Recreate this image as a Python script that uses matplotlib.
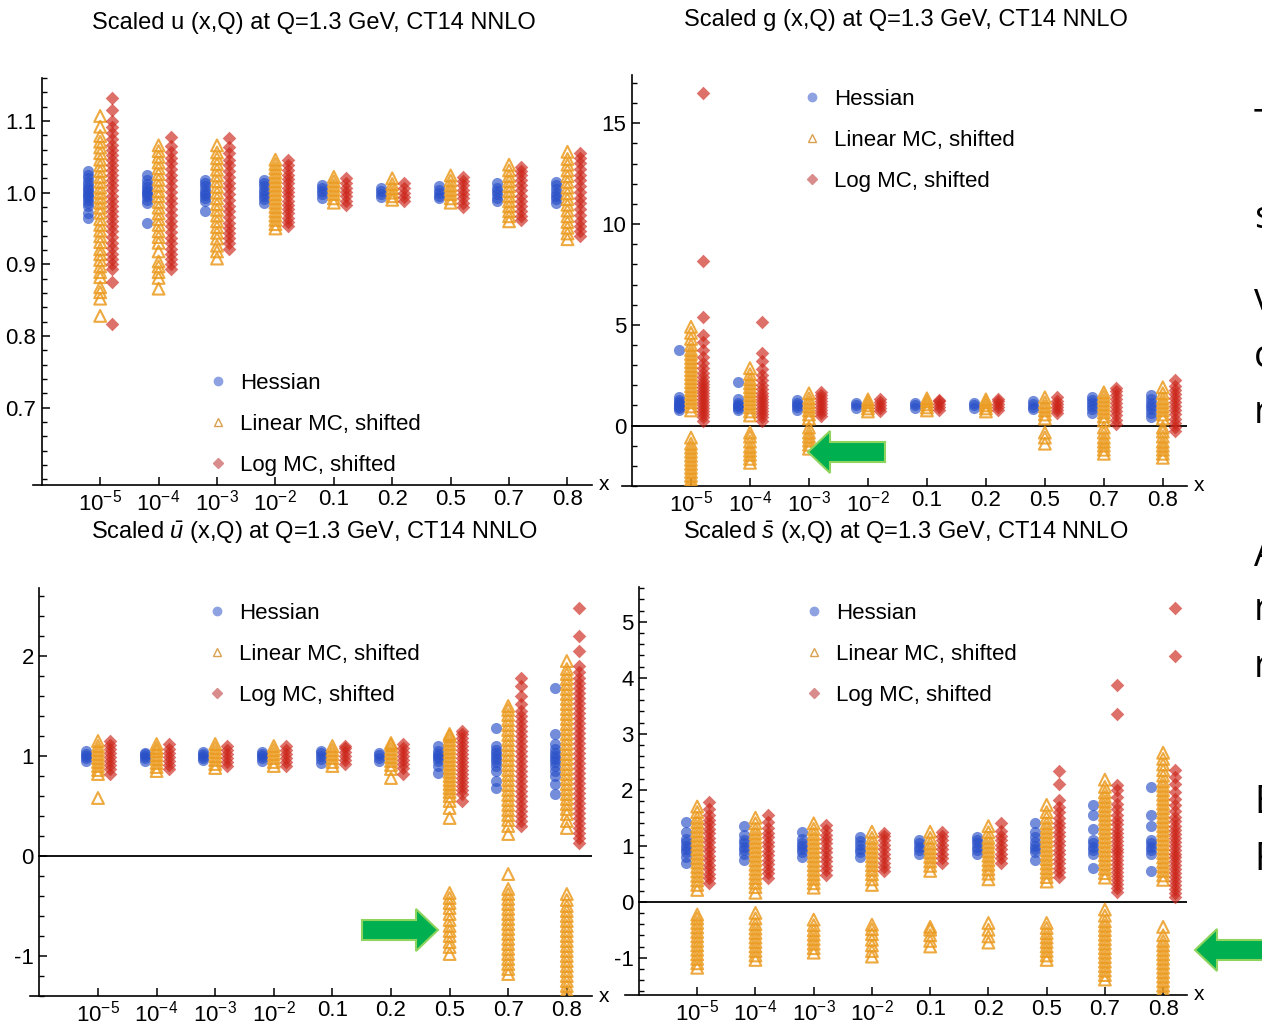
import matplotlib
matplotlib.use('Agg')
import matplotlib.pyplot as plt
import matplotlib.patches as mpatches
from matplotlib.lines import Line2D
import numpy as np

# Tipografia tipo Helvetica
plt.rcParams['font.family'] = ['Liberation Sans', 'DejaVu Sans']
plt.rcParams['mathtext.fontset'] = 'custom'
plt.rcParams['mathtext.rm'] = 'Liberation Sans'
plt.rcParams['mathtext.it'] = 'Liberation Sans:italic'

# Categorias de x
x_labels = ['$10^{-5}$', '$10^{-4}$', '$10^{-3}$', '$10^{-2}$', '0.1', '0.2', '0.5', '0.7', '0.8']
series_names = ['Hessian', 'Linear MC, shifted', 'Log MC, shifted']

# ---- Scaled u ----
u_hess = [
    [0.965, 0.972, 0.981, 0.986, 0.99, 0.994, 0.997, 1.0, 1.003, 1.006, 1.01, 1.015, 1.02, 1.025, 1.03],
    [0.957, 0.985, 0.99, 0.995, 0.998, 1.001, 1.004, 1.008, 1.012, 1.018, 1.024],
    [0.975, 0.988, 0.993, 0.997, 1.0, 1.004, 1.009, 1.013, 1.018],
    [0.986, 0.991, 0.996, 1.0, 1.004, 1.009, 1.014, 1.018],
    [0.993, 0.998, 1.002, 1.006, 1.011],
    [0.994, 0.998, 1.002, 1.007],
    [0.992, 0.996, 1.0, 1.004, 1.009],
    [0.988, 0.993, 0.998, 1.002, 1.007, 1.014],
    [0.986, 0.991, 0.996, 1.0, 1.005, 1.01, 1.015],
]
u_lin = [
    [0.828, 0.852, 0.861, 0.868, 0.882, 0.889, 0.897, 0.906, 0.914, 0.921, 0.931, 0.939, 0.947, 0.955, 0.963,
     0.972, 0.979, 0.986, 0.993, 1.0, 1.007, 1.015, 1.022, 1.03, 1.038, 1.046, 1.055, 1.063, 1.071, 1.079, 1.092, 1.107],
    [0.866, 0.881, 0.889, 0.897, 0.904, 0.918, 0.93, 0.938, 0.946, 0.955, 0.963, 0.971, 0.979, 0.987, 0.995,
     1.002, 1.01, 1.018, 1.026, 1.034, 1.042, 1.05, 1.058, 1.066],
    [0.908, 0.918, 0.926, 0.936, 0.944, 0.952, 0.96, 0.968, 0.976, 0.984, 0.992, 1.0, 1.008, 1.016, 1.024,
     1.032, 1.04, 1.048, 1.056, 1.066],
    [0.95, 0.956, 0.962, 0.968, 0.974, 0.98, 0.986, 0.992, 0.998, 1.004, 1.01, 1.016, 1.022, 1.028, 1.034, 1.04, 1.046],
    [0.986, 0.992, 0.998, 1.004, 1.01, 1.016, 1.022],
    [0.99, 0.995, 1.0, 1.006, 1.012, 1.02],
    [0.986, 0.992, 0.998, 1.004, 1.01, 1.017, 1.024],
    [0.96, 0.967, 0.974, 0.981, 0.988, 0.995, 1.002, 1.009, 1.016, 1.023, 1.031, 1.039],
    [0.935, 0.943, 0.951, 0.959, 0.967, 0.975, 0.983, 0.991, 0.999, 1.007, 1.015, 1.023, 1.031, 1.039, 1.047, 1.057],
]
u_log = [
    [0.817, 0.875, 0.893, 0.9, 0.908, 0.915, 0.923, 0.93, 0.938, 0.946, 0.953, 0.961, 0.968, 0.975, 0.982, 0.989,
     0.996, 1.003, 1.01, 1.017, 1.024, 1.031, 1.038, 1.045, 1.052, 1.06, 1.067, 1.075, 1.083, 1.091, 1.1, 1.115, 1.132],
    [0.893, 0.9, 0.908, 0.915, 0.922, 0.93, 0.937, 0.945, 0.953, 0.961, 0.969, 0.977, 0.985, 0.993, 1.001,
     1.009, 1.017, 1.025, 1.033, 1.041, 1.049, 1.057, 1.065, 1.077],
    [0.922, 0.93, 0.937, 0.944, 0.951, 0.958, 0.966, 0.974, 0.982, 0.99, 0.998, 1.006, 1.014, 1.022, 1.03,
     1.038, 1.046, 1.055, 1.064, 1.076],
    [0.953, 0.959, 0.965, 0.971, 0.977, 0.983, 0.989, 0.995, 1.001, 1.007, 1.013, 1.019, 1.025, 1.031, 1.038, 1.045],
    [0.983, 0.989, 0.995, 1.001, 1.007, 1.014, 1.021],
    [0.988, 0.994, 1.0, 1.006, 1.014],
    [0.98, 0.986, 0.992, 0.998, 1.004, 1.01, 1.016, 1.022],
    [0.962, 0.968, 0.975, 0.982, 0.989, 0.996, 1.003, 1.01, 1.017, 1.024, 1.03, 1.036],
    [0.939, 0.946, 0.953, 0.961, 0.969, 0.977, 0.985, 0.993, 1.001, 1.009, 1.017, 1.025, 1.033, 1.041, 1.048, 1.055],
]

# ---- Scaled g ----
g_hess = [
    [0.75, 0.86, 0.94, 1.0, 1.06, 1.15, 1.26, 1.4, 3.75],
    [0.76, 0.86, 0.95, 1.04, 1.14, 1.3, 2.15],
    [0.76, 0.9, 1.0, 1.1, 1.28],
    [0.86, 1.0, 1.14],
    [0.86, 1.0, 1.14],
    [0.86, 1.0, 1.13],
    [0.8, 0.94, 1.06, 1.2],
    [0.6, 0.8, 0.95, 1.1, 1.25, 1.4],
    [0.4, 0.62, 0.8, 0.96, 1.1, 1.3, 1.5],
]
g_lin = [
    [-3.1, -2.9, -2.7, -2.5, -2.3, -2.1, -1.9, -1.7, -1.5, -1.3, -1.1, -0.9, -0.6,
     0.75, 0.95, 1.15, 1.35, 1.55, 1.75, 1.95, 2.15, 2.35, 2.55, 2.75, 2.95, 3.15, 3.35, 3.55, 3.75, 4.0, 4.3, 4.6, 4.9],
    [-1.85, -1.65, -1.45, -1.25, -1.05, -0.8, -0.55, -0.35,
     0.5, 0.7, 0.9, 1.1, 1.3, 1.5, 1.7, 1.9, 2.1, 2.3, 2.55, 2.85],
    [-1.15, -0.95, -0.75, -0.55, -0.35, -0.1, 0.35, 0.55, 0.75, 0.95, 1.15, 1.35, 1.6],
    [0.7, 0.85, 1.0, 1.15, 1.3],
    [0.75, 0.9, 1.05, 1.2, 1.35],
    [0.7, 0.85, 1.0, 1.15, 1.3],
    [-0.9, -0.6, -0.35, 0.35, 0.55, 0.75, 0.95, 1.15, 1.4],
    [-1.4, -1.2, -1.0, -0.8, -0.6, -0.35, -0.1, 0.25, 0.45, 0.65, 0.85, 1.05, 1.25, 1.45, 1.65],
    [-1.6, -1.4, -1.2, -1.0, -0.8, -0.55, -0.3, -0.1, 0.35, 0.55, 0.75, 0.95, 1.15, 1.35, 1.6, 1.9],
]
g_log = [
    [0.25, 0.4, 0.55, 0.7, 0.85, 1.0, 1.15, 1.3, 1.45, 1.6, 1.75, 1.9, 2.05, 2.2, 2.4, 2.6, 2.85, 3.1,
     3.4, 3.75, 4.15, 4.5, 5.4, 8.15, 16.5],
    [0.25, 0.4, 0.55, 0.7, 0.85, 1.0, 1.15, 1.3, 1.45, 1.6, 1.8, 2.0, 2.25, 2.5, 2.8, 3.2, 3.6, 5.15],
    [0.45, 0.6, 0.75, 0.9, 1.05, 1.2, 1.35, 1.5, 1.65],
    [0.7, 0.85, 1.0, 1.15, 1.3],
    [0.75, 0.9, 1.05, 1.2, 1.25],
    [0.75, 0.9, 1.05, 1.2, 1.3],
    [0.6, 0.75, 0.9, 1.05, 1.2, 1.4],
    [0.1, 0.3, 0.5, 0.7, 0.9, 1.1, 1.3, 1.5, 1.7, 1.85],
    [-0.25, -0.05, 0.15, 0.35, 0.55, 0.75, 0.95, 1.15, 1.35, 1.55, 1.75, 1.95, 2.25],
]

# ---- Scaled ubar ----
ubar_hess = [
    [0.95, 0.98, 1.0, 1.02, 1.05],
    [0.95, 0.98, 1.0, 1.02, 1.03],
    [0.96, 0.98, 1.0, 1.02, 1.04],
    [0.95, 0.98, 1.0, 1.02, 1.04],
    [0.93, 0.97, 1.0, 1.03, 1.05],
    [0.95, 0.98, 1.01, 1.03],
    [0.83, 0.9, 0.95, 0.98, 1.0, 1.02, 1.05, 1.1],
    [0.68, 0.75, 0.85, 0.9, 0.94, 0.97, 1.0, 1.03, 1.06, 1.1, 1.28],
    [0.62, 0.72, 0.8, 0.85, 0.9, 0.94, 0.97, 1.0, 1.03, 1.07, 1.12, 1.22, 1.68],
]
ubar_lin = [
    [0.58, 0.82, 0.86, 0.9, 0.94, 0.98, 1.02, 1.06, 1.1, 1.15],
    [0.85, 0.89, 0.93, 0.97, 1.01, 1.05, 1.08, 1.12],
    [0.88, 0.92, 0.96, 1.0, 1.04, 1.08, 1.12],
    [0.9, 0.94, 0.98, 1.02, 1.06, 1.1],
    [0.9, 0.94, 0.98, 1.02, 1.06, 1.1],
    [0.78, 0.87, 0.91, 0.95, 0.99, 1.03, 1.07, 1.11, 1.13],
    [-0.98, -0.91, -0.86, -0.8, -0.75, -0.7, -0.64, -0.58, -0.52, -0.47, -0.42, -0.37,
     0.38, 0.48, 0.55, 0.6, 0.64, 0.68, 0.72, 0.76, 0.8, 0.84, 0.88, 0.92, 0.96, 1.0, 1.04, 1.08, 1.12, 1.16, 1.2, 1.22],
    [-1.18, -1.13, -1.08, -1.03, -0.98, -0.93, -0.88, -0.83, -0.78, -0.73, -0.68, -0.63, -0.58, -0.53, -0.48,
     -0.43, -0.38, -0.33, -0.18,
     0.22, 0.3, 0.36, 0.41, 0.46, 0.51, 0.56, 0.61, 0.66, 0.71, 0.76, 0.81, 0.86, 0.91, 0.96, 1.01, 1.06,
     1.11, 1.16, 1.21, 1.26, 1.31, 1.36, 1.41, 1.46, 1.5],
    [-1.4, -1.35, -1.3, -1.25, -1.2, -1.15, -1.1, -1.05, -1.0, -0.95, -0.9, -0.85, -0.8, -0.75, -0.7, -0.65,
     -0.6, -0.55, -0.5, -0.44, -0.38,
     0.28, 0.35, 0.42, 0.47, 0.52, 0.57, 0.62, 0.67, 0.72, 0.77, 0.82, 0.87, 0.92, 0.97, 1.02, 1.07, 1.12,
     1.17, 1.22, 1.27, 1.32, 1.37, 1.42, 1.47, 1.52, 1.57, 1.62, 1.67, 1.72, 1.77, 1.82, 1.87, 1.95],
]
ubar_log = [
    [0.82, 0.87, 0.91, 0.95, 0.99, 1.03, 1.07, 1.11, 1.15],
    [0.87, 0.91, 0.95, 0.99, 1.03, 1.07, 1.12],
    [0.9, 0.94, 0.98, 1.02, 1.06, 1.1],
    [0.9, 0.94, 0.98, 1.02, 1.06, 1.1],
    [0.92, 0.96, 1.0, 1.04, 1.08, 1.1],
    [0.82, 0.88, 0.92, 0.96, 1.0, 1.04, 1.08, 1.12],
    [0.55, 0.62, 0.66, 0.7, 0.74, 0.78, 0.82, 0.86, 0.9, 0.94, 0.98, 1.02, 1.06, 1.1, 1.14, 1.18, 1.22, 1.25],
    [0.3, 0.35, 0.4, 0.45, 0.5, 0.55, 0.6, 0.65, 0.7, 0.75, 0.8, 0.85, 0.9, 0.95, 1.0, 1.05, 1.1, 1.15,
     1.2, 1.25, 1.3, 1.35, 1.4, 1.45, 1.52, 1.6, 1.7, 1.78],
    [0.13, 0.18, 0.23, 0.28, 0.33, 0.38, 0.43, 0.48, 0.53, 0.58, 0.63, 0.68, 0.73, 0.78, 0.83, 0.88, 0.93,
     0.98, 1.03, 1.08, 1.13, 1.18, 1.23, 1.28, 1.33, 1.38, 1.43, 1.48, 1.53, 1.58, 1.63, 1.68, 1.73, 1.78,
     1.84, 1.9, 2.05, 2.2, 2.48],
]

# ---- Scaled sbar ----
sbar_hess = [
    [0.7, 0.8, 0.88, 0.94, 1.0, 1.06, 1.12, 1.25, 1.43],
    [0.75, 0.85, 0.92, 0.98, 1.04, 1.1, 1.2, 1.35],
    [0.8, 0.88, 0.95, 1.0, 1.05, 1.12, 1.25],
    [0.8, 0.88, 0.95, 1.02, 1.08, 1.15],
    [0.85, 0.92, 0.98, 1.04, 1.1],
    [0.85, 0.92, 0.98, 1.04, 1.1, 1.15],
    [0.75, 0.88, 0.94, 1.0, 1.06, 1.15, 1.25, 1.4],
    [0.6, 0.85, 0.92, 0.98, 1.04, 1.1, 1.3, 1.55, 1.73],
    [0.54, 0.85, 0.92, 0.98, 1.04, 1.1, 1.35, 1.55, 2.04],
]
sbar_lin = [
    [-1.18, -1.1, -1.02, -0.94, -0.86, -0.78, -0.7, -0.62, -0.54, -0.46, -0.38, -0.3, -0.23,
     0.21, 0.3, 0.38, 0.46, 0.54, 0.62, 0.7, 0.78, 0.86, 0.94, 1.02, 1.1, 1.18, 1.26, 1.34, 1.42, 1.5, 1.6, 1.7],
    [-1.04, -0.96, -0.88, -0.8, -0.72, -0.64, -0.56, -0.48, -0.4, -0.3, -0.2,
     0.16, 0.26, 0.34, 0.42, 0.5, 0.58, 0.66, 0.74, 0.82, 0.9, 0.98, 1.06, 1.14, 1.22, 1.3, 1.4, 1.5],
    [-0.91, -0.83, -0.75, -0.67, -0.59, -0.51, -0.42, -0.32,
     0.25, 0.33, 0.41, 0.49, 0.57, 0.65, 0.73, 0.81, 0.89, 0.97, 1.05, 1.13, 1.21, 1.3, 1.4],
    [-0.98, -0.88, -0.78, -0.68, -0.58, -0.49, -0.41,
     0.3, 0.4, 0.49, 0.57, 0.65, 0.73, 0.81, 0.89, 0.97, 1.05, 1.14, 1.25],
    [-0.8, -0.7, -0.6, -0.5, -0.45,
     0.55, 0.64, 0.72, 0.8, 0.88, 0.96, 1.04, 1.14, 1.25],
    [-0.73, -0.62, -0.5, -0.38,
     0.4, 0.5, 0.58, 0.66, 0.74, 0.82, 0.9, 0.98, 1.06, 1.14, 1.24, 1.35],
    [-1.04, -0.96, -0.88, -0.8, -0.72, -0.64, -0.56, -0.47, -0.38,
     0.36, 0.44, 0.52, 0.6, 0.68, 0.76, 0.84, 0.92, 1.0, 1.08, 1.16, 1.24, 1.32, 1.4, 1.5, 1.6, 1.73],
    [-1.39, -1.31, -1.23, -1.15, -1.07, -0.99, -0.91, -0.83, -0.75, -0.67, -0.59, -0.51, -0.43, -0.35, -0.25, -0.14,
     0.43, 0.51, 0.59, 0.67, 0.75, 0.83, 0.91, 0.99, 1.07, 1.15, 1.23, 1.31, 1.39, 1.47, 1.55, 1.63, 1.71,
     1.79, 1.87, 1.95, 2.05, 2.18],
    [-1.66, -1.58, -1.5, -1.42, -1.34, -1.26, -1.18, -1.1, -1.02, -0.94, -0.86, -0.78, -0.7, -0.6, -0.45,
     0.39, 0.47, 0.55, 0.63, 0.71, 0.79, 0.87, 0.95, 1.03, 1.11, 1.19, 1.27, 1.35, 1.43, 1.51, 1.59, 1.67,
     1.75, 1.83, 1.91, 1.99, 2.07, 2.15, 2.25, 2.35, 2.45, 2.55, 2.66],
]
sbar_log = [
    [0.34, 0.42, 0.5, 0.58, 0.66, 0.74, 0.82, 0.9, 0.98, 1.06, 1.14, 1.22, 1.3, 1.38, 1.46, 1.55, 1.65, 1.78],
    [0.43, 0.51, 0.59, 0.67, 0.75, 0.83, 0.91, 0.99, 1.07, 1.15, 1.23, 1.32, 1.42, 1.55],
    [0.48, 0.56, 0.64, 0.72, 0.8, 0.88, 0.96, 1.04, 1.12, 1.2, 1.28, 1.37],
    [0.54, 0.62, 0.7, 0.78, 0.86, 0.94, 1.02, 1.1, 1.17, 1.23],
    [0.7, 0.78, 0.86, 0.94, 1.02, 1.1, 1.18, 1.25],
    [0.7, 0.78, 0.86, 0.94, 1.02, 1.1, 1.18, 1.27, 1.4],
    [0.45, 0.53, 0.61, 0.69, 0.77, 0.85, 0.93, 1.01, 1.09, 1.17, 1.25, 1.33, 1.41, 1.5, 1.6, 1.7, 1.82, 2.1, 2.34],
    [0.18, 0.25, 0.32, 0.39, 0.46, 0.53, 0.6, 0.67, 0.74, 0.81, 0.88, 0.95, 1.02, 1.09, 1.16, 1.23, 1.3,
     1.38, 1.46, 1.55, 1.65, 1.75, 1.87, 2.0, 2.09, 3.36, 3.87],
    [0.09, 0.16, 0.23, 0.3, 0.37, 0.44, 0.51, 0.58, 0.65, 0.72, 0.79, 0.86, 0.93, 1.0, 1.07, 1.14, 1.21,
     1.28, 1.36, 1.44, 1.52, 1.62, 1.72, 1.84, 1.96, 2.1, 2.22, 2.36, 4.38, 5.25],
]

W, H = 1262, 1026
fig = plt.figure(figsize=(W / 100, H / 100), dpi=100)

col_h = '#2a50c8'
col_l = '#eb9a1e'
col_r = '#cc2418'


def px_axes(left, right, bottom, top):
    # rectangulo en pixeles -> fraccion de figura
    return fig.add_axes([left / W, 1 - bottom / H, (right - left) / W, (bottom - top) / H])


def panel(rect, xlim, ylim, hess, lin, log, yticks, ylabels, yminor, zero_line, leg_xy):
    ax = px_axes(*rect)
    idx = np.arange(len(x_labels))
    for i in idx:
        ax.scatter(np.full(len(hess[i]), i - 0.2), hess[i], marker='o', s=64,
                   color=col_h, alpha=0.65, linewidths=0, zorder=3)
        ax.scatter(np.full(len(lin[i]), i), lin[i], marker='^', s=72,
                   facecolors='none', edgecolors=col_l, linewidths=1.5, alpha=0.85, zorder=3)
        ax.scatter(np.full(len(log[i]), i + 0.21), log[i], marker='D', s=48,
                   color=col_r, alpha=0.65, linewidths=0, zorder=3)
    ax.set_xlim(*xlim)
    ax.set_ylim(*ylim)
    ax.patch.set_visible(False)
    for s in ['top', 'right']:
        ax.spines[s].set_visible(False)
    ax.spines['left'].set_position(('data', -1))
    ax.spines['left'].set_linewidth(1.2)
    ax.spines['bottom'].set_linewidth(1.2)
    ax.set_xticks(idx)
    ax.set_xticklabels(x_labels)
    ax.set_yticks(yticks)
    ax.set_yticklabels(ylabels)
    ax.set_yticks(yminor, minor=True)
    ax.tick_params(axis='x', direction='in', length=6, width=1.1, labelsize=16, pad=3)
    ax.tick_params(axis='y', which='major', direction='in', length=6, width=1.1, labelsize=16, pad=4)
    ax.tick_params(axis='y', which='minor', direction='in', length=3.5, width=1.0)
    if zero_line:
        ax.axhline(0, xmin=(-1 - xlim[0]) / (xlim[1] - xlim[0]), color='black', lw=1.3, zorder=2)
    ax.text(1.012, 0, 'x', transform=ax.transAxes, fontsize=15, va='center', ha='left')
    handles = [
        Line2D([], [], marker='o', ls='none', color='#8ea2e2', markersize=6),
        Line2D([], [], marker='^', ls='none', markerfacecolor='none', markeredgecolor='#d9a050', markersize=6),
        Line2D([], [], marker='D', ls='none', color='#d98c8c', markersize=5),
    ]
    ax.legend(handles, series_names, loc='upper left', bbox_to_anchor=(leg_xy[0] / W, 1 - leg_xy[1] / H),
              bbox_transform=fig.transFigure, frameon=False, fontsize=16, handlelength=0.8,
              handletextpad=0.6, labelspacing=0.9, borderpad=0, borderaxespad=0)
    return ax


panel((33, 592, 485, 78), (-1.15, 8.42), (0.592, 1.16), u_hess, u_lin, u_log,
      [0.7, 0.8, 0.9, 1.0, 1.1], ['0.7', '0.8', '0.9', '1.0', '1.1'],
      np.arange(0.6, 1.161, 0.02), False, (209, 373))
panel((622, 1187, 486, 75), (-1.17, 8.41), (-3.0, 17.4), g_hess, g_lin, g_log,
      [0, 5, 10, 15], ['0', '5', '10', '15'],
      np.arange(-3, 17.1, 1), True, (803, 89))
panel((30, 592, 996, 588), (-1.16, 8.43), (-1.40, 2.68), ubar_hess, ubar_lin, ubar_log,
      [-1, 0, 1, 2], ['-1', '0', '1', '2'],
      np.arange(-1.4, 2.61, 0.2), True, (208, 603))
panel((625, 1187, 995, 587), (-1.24, 8.41), (-1.666, 5.62), sbar_hess, sbar_lin, sbar_log,
      [-1, 0, 1, 2, 3, 4, 5], ['-1', '0', '1', '2', '3', '4', '5'],
      np.arange(-1.6, 5.61, 0.2), True, (805, 603))

# Titulos
fig.text(314 / W, 1 - 23 / H, 'Scaled u (x,Q) at Q=1.3 GeV, CT14 NNLO', fontsize=17, ha='center', va='center')
fig.text(906 / W, 1 - 20 / H, 'Scaled g (x,Q) at Q=1.3 GeV, CT14 NNLO', fontsize=17, ha='center', va='center')
fig.text(314 / W, 1 - 533 / H, r'Scaled $\bar{u}$ (x,Q) at Q=1.3 GeV, CT14 NNLO', fontsize=17, ha='center', va='center')
fig.text(906 / W, 1 - 533 / H, r'Scaled $\bar{s}$ (x,Q) at Q=1.3 GeV, CT14 NNLO', fontsize=17, ha='center', va='center')

# Capa en pixeles para flechas y texto de la diapositiva
ov = fig.add_axes([0, 0, 1, 1], zorder=10)
ov.set_xlim(0, W)
ov.set_ylim(H, 0)
ov.axis('off')
ov.patch.set_visible(False)

arrows = [(885, 452, -77), (362, 930, 76), (1275, 950, -80)]
for x0, y0, dx in arrows:
    ov.add_patch(mpatches.FancyArrow(x0, y0, dx, 0, width=20, head_width=42, head_length=22,
                                     length_includes_head=True, facecolor='#00b050',
                                     edgecolor='#8fd45e', linewidth=1.5))

slide_letters = ['T', 's', 'v', 'c', 'r', 'A', 'r', 'r', 'E', 'F']
slide_base = [137, 228, 310, 367, 423, 566, 620, 677, 813, 870]
for ch, yb in zip(slide_letters, slide_base):
    ov.text(1254, yb, ch, fontsize=27, family=['Open Sans', 'DejaVu Sans'], va='baseline', ha='left')

fig.savefig('out.png', dpi=100)
